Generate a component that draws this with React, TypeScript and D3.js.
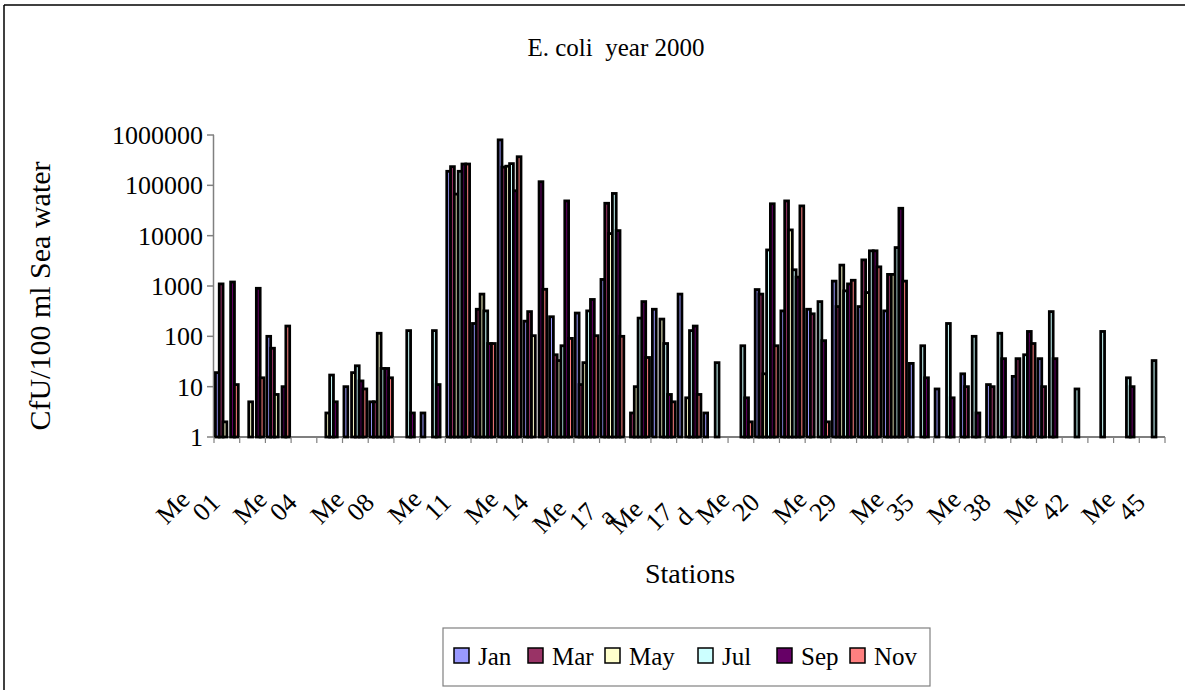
import * as d3 from "d3";

const CATEGORIES = [
  "Me 01", "Me 02", "Me 03", "Me 04", "Me 05", "Me 06", "Me 08", "Me 09", "Me 10",
  "Me 11", "Me 12", "Me 13", "Me 14", "Me 15", "Me 16", "Me 17 a", "Me 17 b", "Me 17 c",
  "Me 17 d", "Me 18", "Me 19", "Me 20", "Me 21", "Me 25", "Me 29", "Me 31", "Me 33",
  "Me 35", "Me 36", "Me 37", "Me 38", "Me 39", "Me 40", "Me 42", "Me 43", "Me 44", "Me 45",
];

const SERIES = ["Jan", "Mar", "May", "Jul", "Sep", "Nov"];
const COLORS = ["#9999FF", "#993366", "#FFFFCC", "#CCFFFF", "#660066", "#FF8080"];

const JAN = [19, null, 100, null, null, 10, 5, null, 3, 190000, 180, 800000, 200, 245, 290, 1350, null, 345, 690, 3, null, 850, 320, 345, 1250, 390, 320, 29, 9, 18, 11, 16, 36, null, null, null, null];
const MAR = [1100, null, 58, null, null, null, 5, null, null, 235000, 345, 230000, 310, 43, 11, 44000, 3, null, null, null, null, 690, 49000, 280, 390, 3300, 1700, null, null, 10, 10, 36, 10, null, null, null, null];
const MAY = [2, 5, 7, null, 3, 19, 115, null, null, 67000, 690, 240000, 103, 33, 30, 11000, 10, 220, 6, null, null, 18, 13000, null, 2600, 740, 1700, null, null, null, null, null, null, null, null, null, null];
const JUL = [null, null, null, null, 17, 26, 23, 130, 130, 190000, 320, 270000, null, 65, 320, 69000, 230, 72, 130, 30, 65, 5200, 2100, 490, 800, 5000, 5800, 65, 180, 100, 115, 43, 310, 9, 125, 15, 33];
const SEP = [1200, 900, 10, null, 5, 13, 23, 3, 11, 265000, 72, 78000, 118000, 49000, 540, 12600, 490, 7, 160, null, 6, 43000, 1500, 82, 1100, 5000, 35000, 15, 6, 3, 36, 125, 36, null, null, 10, null];
const NOV = [11, 15, 160, null, null, 9, 15, null, null, 265000, 72, 370000, 860, 91, 103, 100, 38, 5, 7, null, 2, 65, 39000, 2, 1300, 2400, 1250, null, null, null, null, 72, null, null, null, null, null];

const VALUES = [JAN, MAR, MAY, JUL, SEP, NOV];
const Y_TICKS = [1, 10, 100, 1000, 10000, 100000, 1000000];

const FONT = '"Liberation Serif", "Times New Roman", serif';
const FS = 26;
// where each legend entry starts, measured from the legend box's left edge
const LEGEND_OFFSETS = [11, 85, 162, 255, 334, 407];

const measureCtx = typeof document !== "undefined" ? document.createElement("canvas").getContext("2d") : null;
function textWidth(s: string, size: number) {
  if (!measureCtx) return s.length * size * 0.5;
  measureCtx.font = `${size}px "Liberation Serif"`;
  return measureCtx.measureText(s).width;
}

export default function App() {
  const width = 1185;
  const height = 690;
  const left = 214, right = 1165, top = 135, bottom = 437;

  const x0 = d3.scaleBand<string>().domain(CATEGORIES).range([left, right]).paddingInner(0).paddingOuter(0);
  const x1 = d3.scaleBand<string>().domain(SERIES).range([0, x0.bandwidth()]).paddingInner(0).paddingOuter(0.38);
  const y = d3.scaleLog().domain([1, 1e6]).range([bottom, top]);

  // category labels: every third, words rotated one by one
  const labels = CATEGORIES.map((c, i) => {
    if (i % 3 !== 0) return null;
    const cc = (x0(c) ?? 0) + x0.bandwidth() / 2;
    const words = c.split(" ");
    const ext = words.map((w) => textWidth(w, FS) * 0.8 + 5);
    const gap = 4;
    const total = d3.sum(ext) + gap * (words.length - 1);
    let cur = cc - 39 - total / 2;
    const yc = 476 + total / 2;
    return words.map((w, k) => {
      const cx = cur + ext[k] / 2;
      cur += ext[k] + gap;
      return { key: `${c}-${k}`, text: w, x: cx, y: yc };
    });
  }).filter(Boolean).flat() as { key: string; text: string; x: number; y: number }[];

  const legendX = 443;

  return (
    <svg
      width={width}
      height={height}
      style={{ position: "absolute", left: 0, top: 0, background: "#fff", fontFamily: FONT }}
    >
      <line x1={4} y1={5} x2={width} y2={5} stroke="#000" strokeWidth={1.5} />
      <line x1={4} y1={5} x2={4} y2={height} stroke="#000" strokeWidth={1.5} />

      <text x={616} y={56} textAnchor="middle" fontSize={25} fill="#000" style={{ whiteSpace: "pre" }}>
        E. coli  year 2000
      </text>

      {/* y axis */}
      <line x1={left - 0.5} y1={top} x2={left - 0.5} y2={bottom} stroke="#808080" strokeWidth={1.5} />
      {Y_TICKS.map((t) => (
        <g key={t}>
          <line x1={left - 7} x2={left} y1={y(t)} y2={y(t)} stroke="#808080" strokeWidth={1.5} />
          <text x={left - 11} y={y(t) + 9} textAnchor="end" fontSize={FS} fill="#000">
            {t}
          </text>
        </g>
      ))}
      <text
        transform={`translate(50,${(top + bottom) / 2 + 10}) rotate(-90)`}
        textAnchor="middle"
        fontSize={30}
        fill="#000"
      >
        CfU/100 ml Sea water
      </text>

      {/* bars */}
      {SERIES.map((s, si) =>
        CATEGORIES.map((c, ci) => {
          const v = VALUES[si][ci];
          if (v == null) return null;
          return (
            <rect
              key={`${s}-${c}`}
              x={(x0(c) ?? 0) + (x1(s) ?? 0)}
              y={y(v)}
              width={x1.bandwidth()}
              height={bottom - y(v)}
              fill={COLORS[si]}
              stroke="#000"
              strokeWidth={2.8}
            />
          );
        })
      )}

      {/* x axis */}
      <line x1={left} y1={bottom} x2={right} y2={bottom} stroke="#000" strokeWidth={1.2} />
      {d3.range(CATEGORIES.length + 1).map((i) => {
        const xx = left + i * x0.step();
        return <line key={i} x1={xx} x2={xx} y1={bottom} y2={bottom + 6} stroke="#808080" strokeWidth={1.2} />;
      })}
      {labels.map((l) => (
        <text
          key={l.key}
          transform={`translate(${l.x},${l.y}) rotate(-45)`}
          textAnchor="middle"
          dominantBaseline="central"
          fontSize={FS}
          fill="#000"
        >
          {l.text}
        </text>
      ))}
      <text x={690} y={583} textAnchor="middle" fontSize={28} fill="#000">
        Stations
      </text>

      {/* legend */}
      <rect x={legendX} y={628} width={487} height={58} fill="#fff" stroke="#808080" strokeWidth={1.2} />
      {SERIES.map((s, i) => {
        const sx = legendX + LEGEND_OFFSETS[i];
        return (
          <g key={s}>
            <rect x={sx} y={648} width={15} height={15} fill={COLORS[i]} stroke="#000" strokeWidth={1.5} />
            <text x={sx + 24} y={665} fontSize={25} fill="#000">
              {s}
            </text>
          </g>
        );
      })}
    </svg>
  );
}
